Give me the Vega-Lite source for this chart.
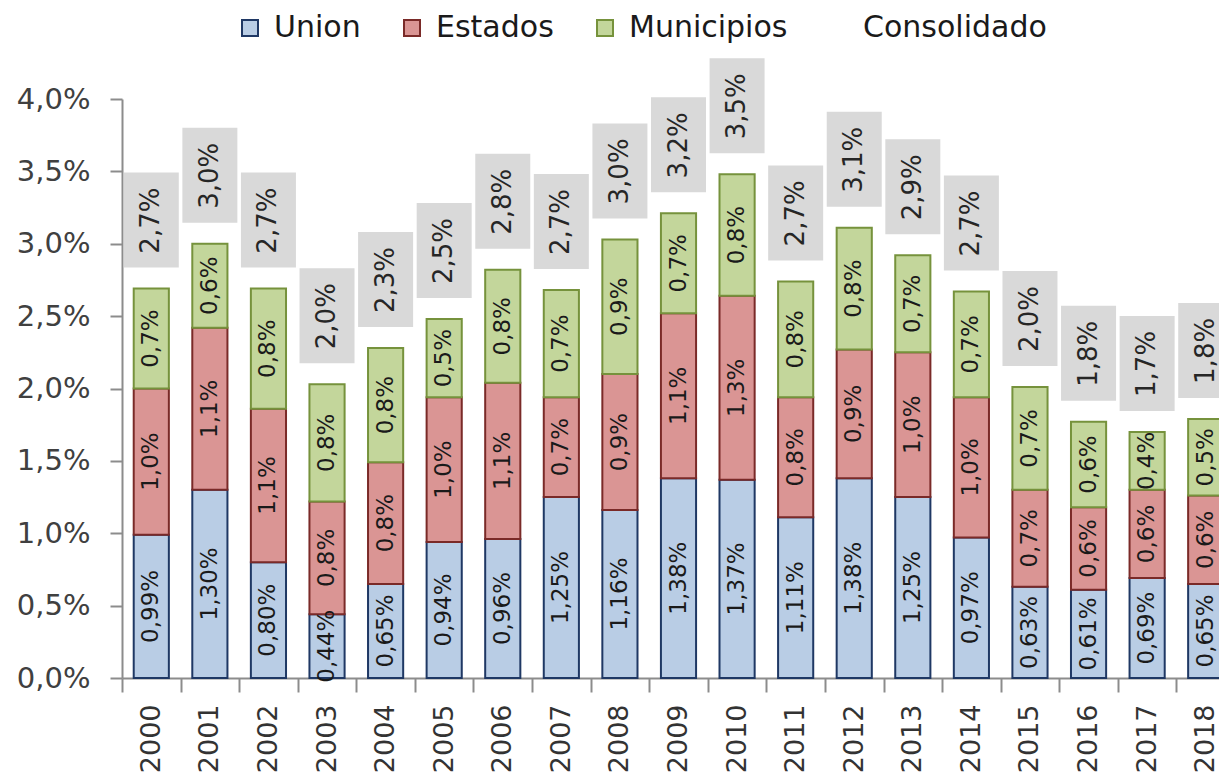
{
  "$schema": "https://vega.github.io/schema/vega-lite/v6.json",
  "width": 1097,
  "height": 579,
  "autosize": {"type": "none"},
  "padding": {"left": 122, "top": 99, "right": 0, "bottom": 98},
  "background": "white",
  "config": {
    "view": {"stroke": null},
    "font": "DejaVu Sans",
    "axis": {"grid": false}
  },
  "data": {
    "values": [
      {"year": "2000", "serie": "Union", "value": 0.99},
      {"year": "2000", "serie": "Estados", "value": 1.01},
      {"year": "2000", "serie": "Municipios", "value": 0.69},
      {"year": "2001", "serie": "Union", "value": 1.30},
      {"year": "2001", "serie": "Estados", "value": 1.12},
      {"year": "2001", "serie": "Municipios", "value": 0.58},
      {"year": "2002", "serie": "Union", "value": 0.80},
      {"year": "2002", "serie": "Estados", "value": 1.06},
      {"year": "2002", "serie": "Municipios", "value": 0.83},
      {"year": "2003", "serie": "Union", "value": 0.44},
      {"year": "2003", "serie": "Estados", "value": 0.78},
      {"year": "2003", "serie": "Municipios", "value": 0.81},
      {"year": "2004", "serie": "Union", "value": 0.65},
      {"year": "2004", "serie": "Estados", "value": 0.84},
      {"year": "2004", "serie": "Municipios", "value": 0.79},
      {"year": "2005", "serie": "Union", "value": 0.94},
      {"year": "2005", "serie": "Estados", "value": 1.00},
      {"year": "2005", "serie": "Municipios", "value": 0.54},
      {"year": "2006", "serie": "Union", "value": 0.96},
      {"year": "2006", "serie": "Estados", "value": 1.08},
      {"year": "2006", "serie": "Municipios", "value": 0.78},
      {"year": "2007", "serie": "Union", "value": 1.25},
      {"year": "2007", "serie": "Estados", "value": 0.69},
      {"year": "2007", "serie": "Municipios", "value": 0.74},
      {"year": "2008", "serie": "Union", "value": 1.16},
      {"year": "2008", "serie": "Estados", "value": 0.94},
      {"year": "2008", "serie": "Municipios", "value": 0.93},
      {"year": "2009", "serie": "Union", "value": 1.38},
      {"year": "2009", "serie": "Estados", "value": 1.14},
      {"year": "2009", "serie": "Municipios", "value": 0.69},
      {"year": "2010", "serie": "Union", "value": 1.37},
      {"year": "2010", "serie": "Estados", "value": 1.27},
      {"year": "2010", "serie": "Municipios", "value": 0.84},
      {"year": "2011", "serie": "Union", "value": 1.11},
      {"year": "2011", "serie": "Estados", "value": 0.83},
      {"year": "2011", "serie": "Municipios", "value": 0.80},
      {"year": "2012", "serie": "Union", "value": 1.38},
      {"year": "2012", "serie": "Estados", "value": 0.89},
      {"year": "2012", "serie": "Municipios", "value": 0.84},
      {"year": "2013", "serie": "Union", "value": 1.25},
      {"year": "2013", "serie": "Estados", "value": 1.00},
      {"year": "2013", "serie": "Municipios", "value": 0.67},
      {"year": "2014", "serie": "Union", "value": 0.97},
      {"year": "2014", "serie": "Estados", "value": 0.97},
      {"year": "2014", "serie": "Municipios", "value": 0.73},
      {"year": "2015", "serie": "Union", "value": 0.63},
      {"year": "2015", "serie": "Estados", "value": 0.67},
      {"year": "2015", "serie": "Municipios", "value": 0.71},
      {"year": "2016", "serie": "Union", "value": 0.61},
      {"year": "2016", "serie": "Estados", "value": 0.57},
      {"year": "2016", "serie": "Municipios", "value": 0.59},
      {"year": "2017", "serie": "Union", "value": 0.69},
      {"year": "2017", "serie": "Estados", "value": 0.61},
      {"year": "2017", "serie": "Municipios", "value": 0.40},
      {"year": "2018", "serie": "Union", "value": 0.65},
      {"year": "2018", "serie": "Estados", "value": 0.61},
      {"year": "2018", "serie": "Municipios", "value": 0.53}
    ]
  },
  "transform": [
    {"calculate": "indexof(['Union','Estados','Municipios'], datum.serie)", "as": "ord"},
    {"stack": "value", "groupby": ["year"], "sort": [{"field": "ord", "order": "ascending"}], "as": ["v0", "v1"]},
    {"calculate": "(datum.v0 + datum.v1) / 2", "as": "mid"}
  ],
  "encoding": {
    "x": {
      "field": "year",
      "type": "ordinal",
      "scale": {"range": [0, 1113], "paddingInner": 0.4, "paddingOuter": 0.2},
      "axis": {
        "title": null,
        "labelAngle": -90,
        "labelFontSize": 27,
        "labelColor": "#333333",
        "labelPadding": 12,
        "bandPosition": 0.5,
        "tickOffset": -29.3,
        "labelOffset": 29.3,
        "tickSize": 14,
        "tickWidth": 2,
        "tickColor": "#8c8c8c",
        "domainColor": "#8c8c8c",
        "domainWidth": 2
      }
    }
  },
  "layer": [
    {
      "mark": {"type": "bar", "strokeWidth": 2},
      "encoding": {
        "y": {
          "field": "v1",
          "type": "quantitative",
          "scale": {"domain": [0, 4]},
          "axis": {
            "title": null,
            "values": [0, 0.5, 1, 1.5, 2, 2.5, 3, 3.5, 4],
            "labelExpr": "replace(format(datum.value, '.1f'), '.', ',') + '%'",
            "labelFontSize": 29,
            "labelColor": "#404040",
            "labelPadding": 20,
            "tickSize": 12,
            "tickWidth": 2,
            "tickColor": "#8c8c8c",
            "domainColor": "#8c8c8c",
            "domainWidth": 2
          }
        },
        "y2": {"field": "v0"},
        "fill": {
          "field": "serie",
          "type": "nominal",
          "scale": {
            "domain": ["Union", "Estados", "Municipios", "Consolidado"],
            "range": ["#b9cde5", "#da9594", "#c3d69b", "transparent"]
          },
          "legend": {
            "orient": "none",
            "legendX": 113,
            "legendY": -86,
            "direction": "horizontal",
            "columns": 4,
            "title": null,
            "symbolType": "square",
            "symbolSize": 256,
            "symbolStrokeWidth": 2,
            "labelFontSize": 30,
            "labelColor": "#1a1a1a",
            "labelOffset": 9,
            "labelLimit": 400,
            "columnPadding": 36
          }
        },
        "stroke": {
          "field": "serie",
          "type": "nominal",
          "scale": {
            "domain": ["Union", "Estados", "Municipios", "Consolidado"],
            "range": ["#1f3864", "#7a2a28", "#76923c", "transparent"]
          },
          "legend": {
            "orient": "none",
            "legendX": 113,
            "legendY": -86,
            "direction": "horizontal",
            "columns": 4,
            "title": null,
            "symbolType": "square",
            "symbolSize": 256,
            "symbolStrokeWidth": 2,
            "labelFontSize": 30,
            "labelColor": "#1a1a1a",
            "labelOffset": 9,
            "labelLimit": 400,
            "columnPadding": 36
          }
        }
      }
    },
    {
      "transform": [
        {"calculate": "datum.serie == 'Union' ? replace(format(datum.value, '.2f'), '.', ',') + '%' : replace(format(datum.value, '.1f'), '.', ',') + '%'", "as": "lab"}
      ],
      "mark": {"type": "text", "angle": 270, "fontSize": 23, "color": "#1a1a1a", "align": "center", "baseline": "middle"},
      "encoding": {
        "y": {"field": "mid", "type": "quantitative"},
        "text": {"field": "lab"}
      }
    },
    {
      "transform": [
        {"aggregate": [{"op": "sum", "field": "value", "as": "total"}], "groupby": ["year"]}
      ],
      "mark": {"type": "bar", "color": "#d9d9d9", "width": 55, "yOffset": -116, "y2Offset": -21},
      "encoding": {
        "y": {"field": "total", "type": "quantitative"},
        "y2": {"field": "total"}
      }
    },
    {
      "transform": [
        {"aggregate": [{"op": "sum", "field": "value", "as": "total"}], "groupby": ["year"]},
        {"calculate": "replace(format(datum.total, '.1f'), '.', ',') + '%'", "as": "tlab"}
      ],
      "mark": {"type": "text", "angle": 270, "fontSize": 26, "color": "#262626", "align": "center", "baseline": "middle", "yOffset": -68},
      "encoding": {
        "y": {"field": "total", "type": "quantitative"},
        "text": {"field": "tlab"}
      }
    }
  ]
}
